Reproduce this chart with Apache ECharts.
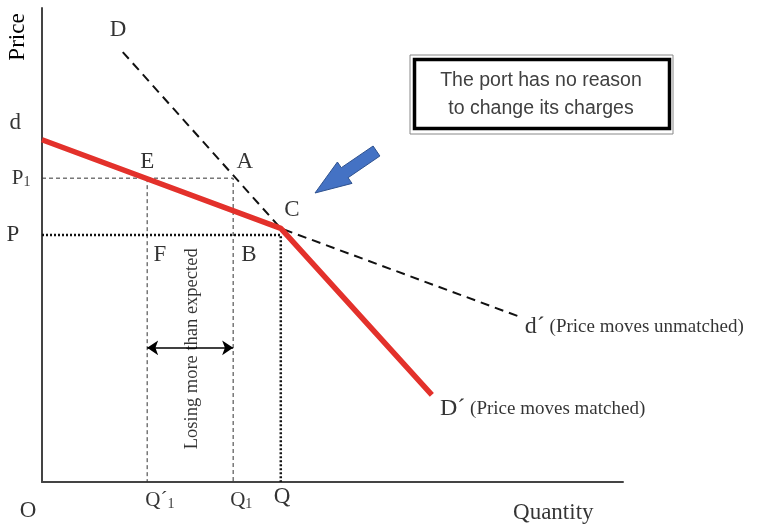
<!DOCTYPE html>
<html>
<head>
<meta charset="utf-8">
<script src="https://cdn.jsdelivr.net/npm/echarts@6/dist/echarts.min.js"></script>
<style>
  html, body { margin: 0; padding: 0; background: #fff; }
  #chart { width: 767px; height: 526px; }
</style>
</head>
<body>
<div id="chart"></div>
<script>
// kinked demand curve, units are arbitrary (0..100 on both axes)
var redKinked = [[0, 72.2], [41.1, 53.5], [67.1, 18.4]];     // d -> C -> D'
var dashedDemand = [[13.9, 90.7], [41.1, 53.5], [81.9, 35.0]]; // D -> C -> d'
var P1 = 64.1, P = 52.1;
var Q1p = 18.1, Q1 = 32.9, Q = 41.1;
var arrowY = 28.3;

// text labels: [x, y, text]
var labels = [
  [13.1, 95.3, 'D'],
  [-4.6, 75.7, 'd'],
  [18.1, 67.6, 'E'],
  [34.9, 67.6, 'A'],
  [43.0, 57.4, 'C'],
  [20.3, 47.9, 'F'],
  [35.6, 47.9, 'B'],
  [-3.6, 64.1, '{i|P}{s|1}'],
  [-5.0, 52.1, 'P'],
  [-2.4, -6.2, 'O'],
  [20.3, -3.8, '{i|Q´}{s|1}'],
  [34.3, -3.8, '{i|Q}{s|1}'],
  [41.3, -3.2, 'Q'],
  [88.0, -6.5, 'Quantity']
];

var chart = echarts.init(document.getElementById('chart'));

var serif = 'Liberation Serif';

chart.setOption({
  animation: false,
  grid: { left: 42, right: 144, top: 8, bottom: 44 },
  xAxis: {
    type: 'value', min: 0, max: 100,
    axisLine: { show: true, lineStyle: { color: '#444', width: 2 } },
    axisTick: { show: false }, axisLabel: { show: false }, splitLine: { show: false }
  },
  yAxis: {
    type: 'value', min: 0, max: 100,
    axisLine: { show: true, lineStyle: { color: '#444', width: 2 } },
    axisTick: { show: false }, axisLabel: { show: false }, splitLine: { show: false }
  },
  series: [
    // P1 dashed guide lines
    {
      type: 'line', symbol: 'none', silent: true,
      data: [[0, P1], [Q1, P1], [Q1, 0]],
      lineStyle: { color: '#333', width: 1, type: [4, 3] }
    },
    {
      type: 'line', symbol: 'none', silent: true,
      data: [[Q1p, P1], [Q1p, 0]],
      lineStyle: { color: '#333', width: 1, type: [4, 3] }
    },
    // P dotted guide lines
    {
      type: 'line', symbol: 'none', silent: true,
      data: [[0, P], [Q, P], [Q, 0]],
      lineStyle: { color: '#111', width: 2.5, type: [2, 2] }
    },
    // D ... d' dashed
    {
      type: 'line', symbol: 'none', silent: true, z: 3,
      data: dashedDemand,
      lineStyle: { color: '#111', width: 2, type: [9, 6] }
    },
    // kinked red
    {
      type: 'line', symbol: 'none', silent: true, z: 4,
      data: redKinked,
      lineStyle: { color: '#e3312b', width: 5.5 }
    },
    // double arrow
    {
      type: 'lines', coordinateSystem: 'cartesian2d', silent: true, z: 5,
      symbol: ['arrow', 'arrow'], symbolSize: 11,
      lineStyle: { color: '#000', width: 1.5, opacity: 1 },
      data: [{ coords: [[Q1p, arrowY], [Q1, arrowY]] }]
    },
    // labels
    {
      type: 'scatter', symbolSize: 0, silent: true, z: 6, clip: false,
      data: labels.map(function (l) { return { value: [l[0], l[1]], name: l[2] }; }),
      label: {
        show: true, position: 'inside',
        formatter: function (p) { return p.name; },
        fontFamily: serif, fontSize: 23, color: '#000',
        rich: {
          i: { fontFamily: serif, fontSize: 21, color: '#000' },
          s: { fontFamily: serif, fontSize: 14, color: '#000', verticalAlign: 'bottom', padding: [8, 0, 0, 0] }
        }
      },
      labelLayout: { hideOverlap: false }
    },
    // end-of-line captions
    {
      type: 'scatter', symbolSize: 0, silent: true, z: 6, clip: false,
      data: [
        { value: [redKinked[2][0] + 1.4, redKinked[2][1] - 2.9], name: 'D´', extra: ' (Price moves matched)' },
        { value: [dashedDemand[2][0] + 1.2, dashedDemand[2][1] - 2.2], name: 'd´', extra: ' (Price moves unmatched)' }
      ],
      label: {
        show: true, position: 'right', distance: 0,
        formatter: function (p) { return '{a|' + p.name + '}{b|' + p.data.extra + '}'; },
        rich: {
          a: { fontFamily: serif, fontSize: 24, color: '#000' },
          b: { fontFamily: serif, fontSize: 19, color: '#000' }
        }
      },
      labelLayout: { hideOverlap: false }
    },
    // rotated caption
    {
      type: 'scatter', symbolSize: 0, silent: true, z: 4,
      data: [{ value: [(Q1p + Q1) / 2 + 0.4, arrowY - 0.2], name: 'Losing more than expected' }],
      label: {
        show: true, position: 'inside', rotate: 90,
        formatter: function (p) { return p.name; },
        fontFamily: serif, fontSize: 18.5, color: '#000'
      },
      labelLayout: { hideOverlap: false }
    }
  ],
  graphic: [
    {
      type: 'text', x: 6, y: 37, rotation: Math.PI / 2,
      style: { text: 'Price', fontFamily: serif, fontSize: 23, fill: '#000', align: 'center', verticalAlign: 'top' }
    },
    { type: 'rect', shape: { x: 410, y: 55, width: 263, height: 79 }, style: { fill: '#fff', stroke: '#888', lineWidth: 1 } },
    { type: 'rect', shape: { x: 414.5, y: 59.5, width: 255, height: 69 }, style: { fill: 'none', stroke: '#000', lineWidth: 3.5 } },
    {
      type: 'text', x: 541, y: 95, style: {
        text: 'The port has no reason\nto change its charges', align: 'center', verticalAlign: 'middle',
        fontFamily: 'Liberation Sans', fontSize: 19.5, lineHeight: 28, fill: '#404040'
      }
    },
    {
      type: 'polygon',
      shape: { points: [[315, 193], [337.4, 162], [341.3, 167.7], [373.1, 146], [379.9, 156], [348.1, 177.7], [352, 183.4]] },
      style: { fill: '#4472c4', stroke: '#2f528f', lineWidth: 1 }
    }
  ]
});
</script>
</body>
</html>
